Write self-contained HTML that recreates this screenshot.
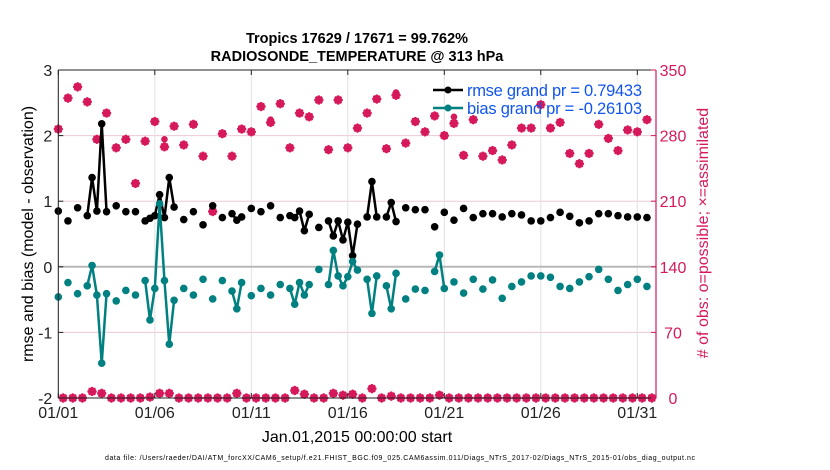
<!DOCTYPE html>
<html><head><meta charset="utf-8"><style>
body{margin:0;background:#fff;}
svg{display:block;font-family:"Liberation Sans",Arial,sans-serif;}
</style></head><body>
<svg id="chart" width="830" height="470" viewBox="0 0 830 470" xmlns="http://www.w3.org/2000/svg">
<text x="357" y="43" text-anchor="middle" font-size="14.5" font-weight="bold">Tropics 17629 / 17671 = 99.762%</text>
<text x="357" y="61" text-anchor="middle" font-size="14.5" font-weight="bold">RADIOSONDE_TEMPERATURE @ 313 hPa</text>
<g id="grid"></g>
<g id="marks"></g>
<g id="axes"></g>
<g>
 <line x1="433" y1="90" x2="463" y2="90" stroke="#000" stroke-width="2.5"/>
 <circle cx="448" cy="90" r="3.5" fill="#000"/>
 <text x="467" y="96" font-size="16.5" fill="#1155ee" textLength="175">rmse grand pr = 0.79433</text>
 <line x1="433" y1="108" x2="463" y2="108" stroke="#008080" stroke-width="2.5"/>
 <circle cx="448" cy="108" r="3.5" fill="#008080"/>
 <text x="467" y="114" font-size="16.5" fill="#1155ee" textLength="175">bias grand pr = -0.26103</text>
</g>
<text transform="translate(33,234) rotate(-90)" text-anchor="middle" font-size="16">rmse and bias (model - observation)</text>
<text transform="translate(708,233) rotate(-90)" text-anchor="middle" font-size="16" fill="#d6195b"># of obs: o=possible; ×=assimilated</text>
<text x="357" y="442" text-anchor="middle" font-size="16">Jan.01,2015 00:00:00 start</text>
<text x="400" y="460" text-anchor="middle" font-size="7" textLength="590">data file: /Users/raeder/DAI/ATM_forcXX/CAM6_setup/f.e21.FHIST_BGC.f09_025.CAM6assim.011/Diags_NTrS_2017-02/Diags_NTrS_2015-01/obs_diag_output.nc</text>
</svg>
<script>
// 6-hourly index (0 = Jan 01 00Z); gaps = missing
const rmsePts = [[0,0.85],[2,0.70],[4,0.90],[6,0.78],[7,1.36],[8,0.85],[9,2.18],[10,0.84],[12,0.93],[14,0.84],[16,0.84],[18,0.70],[19,0.74],[20,0.78],[21,1.10],[22,0.75],[23,1.36],[24,0.91],[26,0.72],[28,0.84],[30,0.64],[32,0.93],[34,0.75],[36,0.81],[37,0.71],[38,0.76],[40,0.89],[42,0.84],[44,0.93],[46,0.75],[48,0.78],[49,0.75],[50,0.85],[51,0.55],[52,0.80],[54,0.60],[56,0.70],[57,0.47],[58,0.70],[59,0.41],[60,0.68],[61,0.17],[62,0.65],[64,0.76],[65,1.30],[66,0.76],[68,0.76],[69,0.98],[70,0.69],[72,0.90],[74,0.87],[76,0.87],[78,0.61],[80,0.83],[82,0.71],[84,0.89],[86,0.75],[88,0.81],[90,0.81],[92,0.76],[94,0.81],[96,0.79],[98,0.70],[100,0.70],[102,0.75],[104,0.83],[106,0.77],[108,0.67],[110,0.70],[112,0.81],[114,0.81],[116,0.78],[118,0.76],[120,0.76],[122,0.75]];
const biasPts = [[0,-0.46],[2,-0.24],[4,-0.41],[6,-0.29],[7,0.02],[8,-0.43],[9,-1.47],[10,-0.41],[12,-0.52],[14,-0.36],[16,-0.43],[18,-0.21],[19,-0.81],[20,-0.33],[21,0.96],[22,-0.21],[23,-1.18],[24,-0.51],[26,-0.33],[28,-0.43],[30,-0.19],[32,-0.49],[34,-0.21],[36,-0.37],[37,-0.64],[38,-0.24],[40,-0.44],[42,-0.33],[44,-0.43],[46,-0.27],[48,-0.33],[49,-0.57],[50,-0.24],[51,-0.43],[52,-0.27],[54,-0.04],[56,-0.27],[57,0.25],[58,-0.14],[59,-0.29],[60,-0.15],[61,0.08],[62,-0.05],[64,-0.19],[65,-0.71],[66,-0.14],[68,-0.29],[69,-0.64],[70,-0.10],[72,-0.49],[74,-0.34],[76,-0.36],[78,-0.07],[79,0.18],[80,-0.33],[82,-0.23],[84,-0.40],[86,-0.19],[88,-0.34],[90,-0.20],[92,-0.48],[94,-0.30],[96,-0.23],[98,-0.14],[100,-0.14],[102,-0.16],[104,-0.30],[106,-0.33],[108,-0.23],[110,-0.15],[112,-0.04],[114,-0.19],[116,-0.36],[118,-0.27],[120,-0.19],[122,-0.30]];
// counts at 00Z/12Z (even indices 0..122)
const assimEven = [287,320,332,316,276,304,267,276,229,274,295,268,290,270,292,258,199,282,258,287,284,311,294,314,267,304,300,318,265,318,267,288,304,319,266,323,272,295,284,301,280,293,259,297,258,264,254,270,288,288,313,288,294,261,250,261,292,277,264,286,284,297];
const possEven  = [287,320,332,316,276,304,267,276,229,274,295,276,290,270,292,258,199,282,258,287,284,311,297,314,267,304,300,318,265,318,267,288,304,319,266,326,272,295,284,301,280,300,259,297,258,264,254,270,288,288,313,288,294,261,250,261,292,277,264,286,284,297];
// counts at 06Z/18Z (odd indices 1..123)
const countOdd = [0,0,0,7,5,0,0,0,0,1,5,5,0,0,0,0,0,0,5,0,0,0,0,0,8,4,0,0,5,3,4,0,10,0,2,0,0,0,0,3,0,0,0,0,0,0,0,0,0,0,0,0,0,0,0,0,0,0,0,0,0,0];
const xTicks = ["01/01","01/06","01/11","01/16","01/21","01/26","01/31"];
const yTicksL = [3,2,1,0,-1,-2];
const yTicksR = [350,280,210,140,70,0];

const L=58.3,R=656,T=70,B=398, STEP=4.825;
const xs = i => L + i*STEP;
const yL = v => T + (3-v)*(B-T)/5;
const yR = v => B - v*(B-T)/350;
const NS="http://www.w3.org/2000/svg";
function mk(tag, attrs, parent){const e=document.createElementNS(NS,tag);for(const k in attrs)e.setAttribute(k,attrs[k]);parent.appendChild(e);return e;}
const grid=document.getElementById('grid'), marks=document.getElementById('marks'), axes=document.getElementById('axes');
const RED="#d6195b", TEAL="#008080";

yTicksR.forEach(v=>{ if(v>0&&v<350){const g=mk('line',{x1:L,x2:R,y1:yR(v),y2:yR(v),stroke:'#ecc8d4','stroke-width':1},grid);

}});
xTicks.forEach((t,k)=>{const x=xs(k*20);const g=mk('line',{x1:x,x2:x,y1:T,y2:B,stroke:'#e2e2e2','stroke-width':1},grid);

});
const zl=mk('line',{x1:L,x2:R,y1:yL(0),y2:yL(0),stroke:'#b8b8b8','stroke-width':2},grid);



function series(pts,color,name){
  let segs=[],cur=[];
  pts.forEach((p,k)=>{ if(k>0 && p[0]!==pts[k-1][0]+1){segs.push(cur);cur=[];} cur.push(p);});
  segs.push(cur);
  segs.forEach(s=>{ if(s.length>1){const pl=mk('polyline',{points:s.map(p=>xs(p[0])+','+yL(p[1])).join(' '),fill:'none',stroke:color,'stroke-width':2.5,'stroke-linejoin':'round'},marks);
    
    }});
  pts.forEach(p=>{const c=mk('circle',{cx:xs(p[0]),cy:yL(p[1]),r:3.8,fill:color},marks);
    
    });
}
function star(cx,cy,name){
  const g=mk('g',{stroke:RED,'stroke-width':3,'stroke-linecap':'round'},marks);
  
  
  const r=3.2;
  mk('line',{x1:cx-r,x2:cx+r,y1:cy,y2:cy},g);
  mk('line',{x1:cx,x2:cx,y1:cy-r,y2:cy+r},g);
  mk('line',{x1:cx-r*0.7,x2:cx+r*0.7,y1:cy-r*0.7,y2:cy+r*0.7},g);
  mk('line',{x1:cx-r*0.7,x2:cx+r*0.7,y1:cy+r*0.7,y2:cy-r*0.7},g);
}
function poss(cx,cy){const c=mk('circle',{cx:cx,cy:cy,r:2.6,fill:RED,stroke:RED,'stroke-width':1.4},marks);
  
  }
assimEven.forEach((v,k)=>{const x=xs(2*k);poss(x,yR(possEven[k]));star(x,yR(v),'assimilated-count');});
countOdd.forEach((v,k)=>{const x=xs(2*k+1);poss(x,yR(v));star(x,yR(v),'assimilated-count');});
series(rmsePts,'#000','rmse');
series(biasPts,TEAL,'bias');

// axes
mk('line',{x1:L,x2:R,y1:T,y2:T,stroke:'#222','stroke-width':1},axes);
mk('line',{x1:L,x2:R,y1:B,y2:B,stroke:'#222','stroke-width':1},axes);
mk('line',{x1:L,x2:L,y1:T,y2:B,stroke:'#222','stroke-width':1},axes);
mk('line',{x1:R,x2:R,y1:T,y2:B,stroke:RED,'stroke-width':1.2},axes);
yTicksL.forEach(v=>{mk('line',{x1:L,x2:L+5,y1:yL(v),y2:yL(v),stroke:'#222'},axes);
  const t=mk('text',{x:L-6,y:yL(v)+6,'text-anchor':'end','font-size':16,fill:'#222'},axes);t.textContent=v;
  
  });
yTicksR.forEach(v=>{mk('line',{x1:R-5,x2:R,y1:yR(v),y2:yR(v),stroke:RED},axes);
  const t=mk('text',{x:673,y:yR(v)+6,'text-anchor':'middle','font-size':16,fill:RED},axes);t.textContent=v;
  
  });
xTicks.forEach((s,k)=>{const x=xs(k*20);mk('line',{x1:x,x2:x,y1:B-5,y2:B,stroke:'#222'},axes);mk('line',{x1:x,x2:x,y1:T,y2:T+5,stroke:'#222'},axes);
  const t=mk('text',{x:x,y:418,'text-anchor':'middle','font-size':16,fill:'#222'},axes);t.textContent=s;
  
  });
</script>
</body></html>
